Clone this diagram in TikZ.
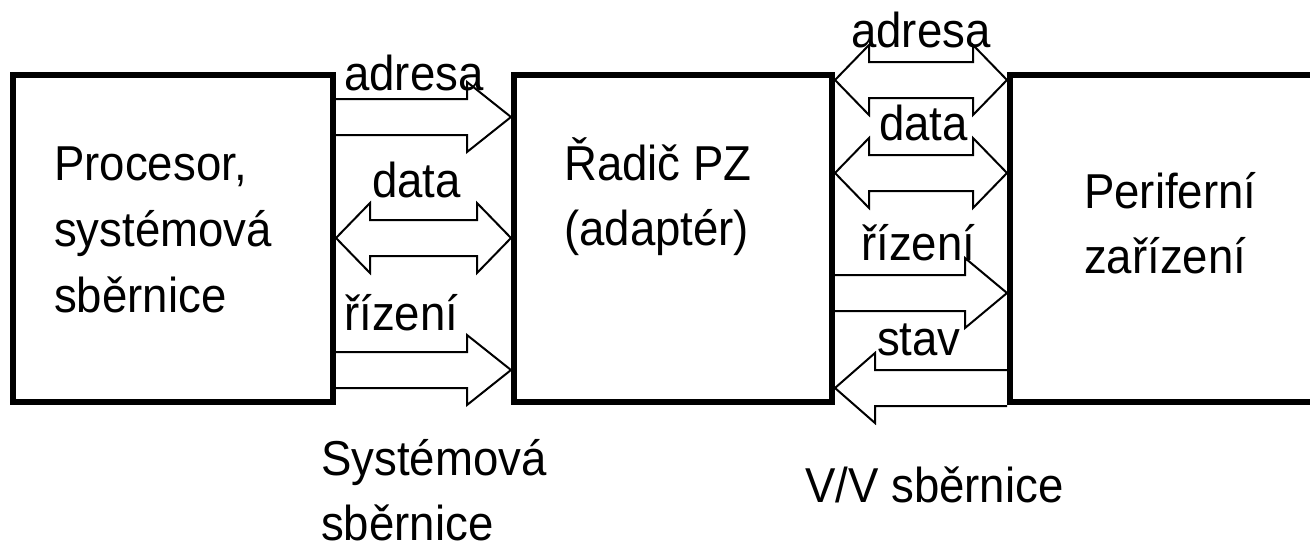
\documentclass[tikz,border=0pt]{standalone}
\usepackage{fontspec}
\setmainfont{Liberation Sans}[FakeStretch=0.93]
\usetikzlibrary{calc}

\tikzset{
    blok/.style = {draw, line width=6pt, inner sep=0pt, anchor=north west},
    popis/.style = {inner sep=0pt, anchor=base west, font={\fontsize{49}{60}\selectfont}},
    sbernice/.style = {draw, line width=2pt, to path={
        let \p1=(\tikztostart), \p2=(\tikztotarget), \n1={sign(\x2-\x1)*#1} in
        (\x1,\y1+18pt) -- (\x2-\n1,\y1+18pt) -- (\x2-\n1,\y1+35pt) -- (\x2,\y1)
        -- (\x2-\n1,\y1-35pt) -- (\x2-\n1,\y1-18pt) -- (\x1,\y1-18pt)}},
    sbernice/.default = 44pt,
    obousmerna/.style = {draw, line width=2pt, to path={
        let \p1=(\tikztostart), \p2=(\tikztotarget), \n1={sign(\x2-\x1)*#1} in
        (\x1,\y1) -- (\x1+\n1,\y1+35pt) -- (\x1+\n1,\y1+18pt)
        -- (\x2-\n1,\y1+18pt) -- (\x2-\n1,\y1+35pt) -- (\x2,\y1)
        -- (\x2-\n1,\y1-35pt) -- (\x2-\n1,\y1-18pt)
        -- (\x1+\n1,\y1-18pt) -- (\x1+\n1,\y1-35pt) -- cycle}},
    obousmerna/.default = 34pt,
}

\begin{document}
\begin{tikzpicture}[x=1pt, y=-1pt]
    \useasboundingbox (0,0) rectangle (1310,552);

    \node[blok, minimum width=320pt, minimum height=327pt] (cpu) at (10,72) {};
    \node[blok, minimum width=318pt, minimum height=327pt] (ctrl) at (511,72) {};
    \node[blok, minimum width=340pt, minimum height=327pt] (dev) at (1007,72) {};

    \node[popis] (cpu1) at (54,180) {Procesor,};
    \node[popis] (cpu2) at (54,246) {systémová};
    \node[popis] (cpu3) at (54,312) {sběrnice};
    \node[popis] (ctrl1) at (564,180) {Řadič PZ};
    \node[popis] (ctrl2) at (564,245) {(adaptér)};
    \node[popis] (dev1) at (1084,208) {Periferní};
    \node[popis] (dev2) at (1084,273) {zařízení};

    \coordinate (hA) at (0,117);
    \coordinate (hD) at (0,238);
    \coordinate (hR) at (0,370);
    \coordinate (pA) at (0,80);
    \coordinate (pD) at (0,173);
    \coordinate (pR) at (0,293);
    \coordinate (pS) at (0,388);

    \draw[sbernice] (cpu.east |- hA) to (ctrl.west |- hA);
    \draw[obousmerna] (cpu.east |- hD) to (ctrl.west |- hD);
    \draw[sbernice] (cpu.east |- hR) to (ctrl.west |- hR);
    \draw[obousmerna] (ctrl.east |- pA) to (dev.west |- pA);
    \draw[obousmerna] (ctrl.east |- pD) to (dev.west |- pD);
    \draw[sbernice=42pt] (ctrl.east |- pR) to (dev.west |- pR);
    \draw[sbernice=40pt] (dev.west |- pS) to (ctrl.east |- pS);

    \node[popis] (hAl) at (344,90) {adresa};
    \node[popis] (hDl) at (372,197) {data};
    \node[popis] (hRl) at (344,330) {řízení};
    \node[popis] (pAl) at (851,47) {adresa};
    \node[popis] (pDl) at (879,140) {data};
    \node[popis] (pRl) at (861,260) {řízení};
    \node[popis] (pSl) at (877,355) {stav};

    \node[popis] (sys1) at (321,475) {Systémová};
    \node[popis] (sys2) at (321,540) {sběrnice};
    \node[popis] (vv) at (805,502) {V/V sběrnice};
\end{tikzpicture}
\end{document}
